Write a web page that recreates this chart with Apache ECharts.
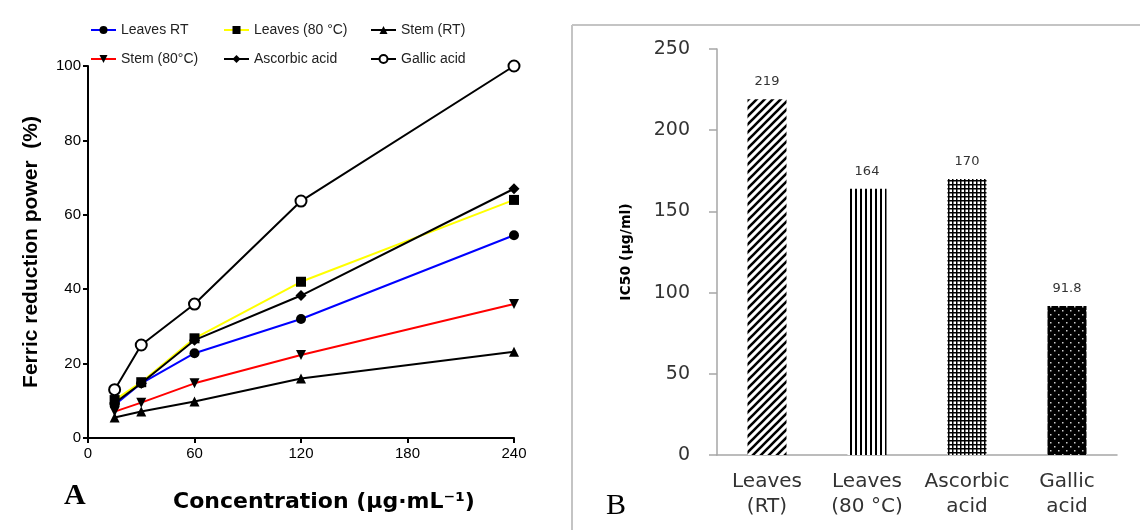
<!DOCTYPE html>
<html>
<head>
<meta charset="utf-8">
<script src="https://cdn.jsdelivr.net/npm/echarts@6/dist/echarts.min.js"></script>
<style>
  html, body { margin: 0; padding: 0; background: #fff; }
  #main { width: 1140px; height: 530px; }
</style>
</head>
<body>
<div id="main"></div>
<script>
// panel A: ferric reduction power vs concentration
var conc = [15, 30, 60, 120, 240];
var leavesRT = [8.9, 14.7, 22.8, 32, 54.5];
var leaves80 = [10.2, 15, 26.8, 42, 64];
var stemRT = [5.5, 7.1, 9.8, 16, 23.2];
var stem80 = [7.1, 9.5, 14.7, 22.3, 36];
var ascorbic = [9.4, 14.7, 26.3, 38.3, 67];
var gallic = [13, 25, 36, 63.7, 100];

// panel B: IC50
var ic50Names = ['Leaves\n(RT)', 'Leaves\n(80 °C)', 'Ascorbic\nacid', 'Gallic\nacid'];
var ic50Values = [219, 164, 170, 91.8];

function pair(ys) {
  var out = [];
  for (var i = 0; i < conc.length; i++) out.push([conc[i], ys[i]]);
  return out;
}

function makePattern(kind) {
  var c = document.createElement('canvas');
  var ctx;
  if (kind === 'diag') {
    c.width = 8; c.height = 8;
    ctx = c.getContext('2d');
    ctx.fillStyle = '#fff'; ctx.fillRect(0, 0, 8, 8);
    ctx.strokeStyle = '#000'; ctx.lineWidth = 2.6;
    ctx.beginPath();
    ctx.moveTo(-2, 10); ctx.lineTo(10, -2);
    ctx.moveTo(-2, 2); ctx.lineTo(2, -2);
    ctx.moveTo(6, 10); ctx.lineTo(10, 6);
    ctx.stroke();
  } else if (kind === 'vert') {
    c.width = 5; c.height = 5;
    ctx = c.getContext('2d');
    ctx.fillStyle = '#fff'; ctx.fillRect(0, 0, 5, 5);
    ctx.fillStyle = '#000'; ctx.fillRect(0, 0, 2, 5);
  } else if (kind === 'grid') {
    c.width = 4; c.height = 4;
    ctx = c.getContext('2d');
    ctx.fillStyle = '#fff'; ctx.fillRect(0, 0, 4, 4);
    ctx.fillStyle = '#000';
    ctx.fillRect(0, 0, 1.5, 4); ctx.fillRect(0, 0, 4, 1.5);
  } else {
    c.width = 8; c.height = 8;
    ctx = c.getContext('2d');
    ctx.fillStyle = '#000'; ctx.fillRect(0, 0, 8, 8);
    ctx.fillStyle = '#ccc';
    ctx.fillRect(2, 2, 1.5, 1.5); ctx.fillRect(6, 6, 1.5, 1.5);
  }
  return { image: c, repeat: 'repeat' };
}

var patterns = [makePattern('diag'), makePattern('vert'), makePattern('grid'), makePattern('dots')];
var barData = ic50Values.map(function (v, i) {
  return { value: v, itemStyle: { color: patterns[i] } };
});

var legendText = { fontFamily: 'Liberation Sans, Arial, sans-serif', fontSize: 14, color: '#222' };
function lineSeries(name, ys, lineColor, symbol, size, extra) {
  var s = {
    name: name, type: 'line', xAxisIndex: 0, yAxisIndex: 0,
    data: pair(ys), symbol: symbol, symbolSize: size,
    lineStyle: { color: lineColor, width: 2 },
    itemStyle: { color: '#000' },
    emphasis: { disabled: true }
  };
  if (extra) for (var k in extra) s[k] = extra[k];
  return s;
}

var chart = echarts.init(document.getElementById('main'));
chart.setOption({
  animation: false,
  title: [
    { text: 'Concentration (µg·mL⁻¹)', left: 168, top: 486,
      textStyle: { fontFamily: 'DejaVu Sans', fontWeight: 'bold', fontSize: 22, color: '#000' } },
    { text: 'A', left: 59, top: 476,
      textStyle: { fontFamily: 'Liberation Serif', fontWeight: 'bold', fontSize: 30, color: '#000' } },
    { text: 'B', left: 601, top: 486,
      textStyle: { fontFamily: 'Liberation Serif', fontWeight: 'normal', fontSize: 30, color: '#000' } }
  ],
  legend: [
    { orient: 'vertical', left: 85, top: 18, itemWidth: 25, itemHeight: 10, itemGap: 15,
      data: ['Leaves RT', 'Stem (80°C)'], textStyle: legendText },
    { orient: 'vertical', left: 218, top: 18, itemWidth: 25, itemHeight: 10, itemGap: 15,
      data: ['Leaves (80 °C)', 'Ascorbic acid'], textStyle: legendText },
    { orient: 'vertical', left: 365, top: 18, itemWidth: 25, itemHeight: 10, itemGap: 15,
      data: ['Stem (RT)', 'Gallic acid'], textStyle: legendText }
  ],
  graphic: [
    { type: 'line', shape: { x1: 572, y1: 25, x2: 1140, y2: 25 }, style: { stroke: '#c4c4c4', lineWidth: 2 } },
    { type: 'line', shape: { x1: 572, y1: 25, x2: 572, y2: 530 }, style: { stroke: '#c4c4c4', lineWidth: 2 } }
  ],
  grid: [
    { left: 88, right: 626, top: 66, bottom: 92 },
    { left: 717, right: 23, top: 49, bottom: 75 }
  ],
  xAxis: [
    { type: 'value', gridIndex: 0, min: 0, max: 240, interval: 60,
      splitLine: { show: false },
      axisLine: { lineStyle: { color: '#000', width: 2 } },
      axisTick: { length: 5, lineStyle: { color: '#000', width: 2 } },
      axisLabel: { margin: 8, fontFamily: 'Liberation Sans, Arial', fontSize: 15, color: '#000' } },
    { type: 'category', gridIndex: 1, data: ic50Names,
      axisLine: { lineStyle: { color: '#a6a6a6', width: 1.5 } },
      axisTick: { length: 6, lineStyle: { color: '#a6a6a6', width: 1.5 } },
      axisLabel: { interval: 0, margin: 14, fontFamily: 'DejaVu Sans', fontSize: 20, lineHeight: 25, color: '#333' } }
  ],
  yAxis: [
    { type: 'value', gridIndex: 0, min: 0, max: 100, interval: 20,
      name: 'Ferric reduction power  (%)', nameLocation: 'middle', nameGap: 46,
      nameTextStyle: { fontFamily: 'Liberation Sans, Arial', fontWeight: 'bold', fontSize: 21, color: '#000' },
      splitLine: { show: false },
      axisLine: { show: true, lineStyle: { color: '#000', width: 2 } },
      axisTick: { show: true, length: 5, lineStyle: { color: '#000', width: 2 } },
      axisLabel: { margin: 7, fontFamily: 'Liberation Sans, Arial', fontSize: 15, color: '#000' } },
    { type: 'value', gridIndex: 1, min: 0, max: 250, interval: 50,
      name: 'IC50 (µg/ml)', nameLocation: 'middle', nameGap: 84,
      nameTextStyle: { fontFamily: 'DejaVu Sans', fontWeight: 'bold', fontSize: 14, color: '#000' },
      splitLine: { show: false },
      axisLine: { show: true, lineStyle: { color: '#a6a6a6', width: 1.5 } },
      axisTick: { show: true, length: 8, lineStyle: { color: '#a6a6a6', width: 1.5 } },
      axisLabel: { margin: 27, fontFamily: 'DejaVu Sans', fontSize: 19, color: '#333' } }
  ],
  series: [
    lineSeries('Stem (RT)', stemRT, '#000', 'triangle', 10),
    lineSeries('Stem (80°C)', stem80, '#ff0000', 'triangle', 10, { symbolRotate: 180 }),
    lineSeries('Leaves RT', leavesRT, '#0000ff', 'circle', 10),
    lineSeries('Leaves (80 °C)', leaves80, '#ffff00', 'rect', 10),
    lineSeries('Ascorbic acid', ascorbic, '#000', 'diamond', 11),
    lineSeries('Gallic acid', gallic, '#000', 'emptyCircle', 11, {
      itemStyle: { color: '#000', borderColor: '#000', borderWidth: 2 }
    }),
    { type: 'bar', xAxisIndex: 1, yAxisIndex: 1, barWidth: 39, data: barData,
      emphasis: { disabled: true },
      label: { show: true, position: 'top', distance: 11,
        fontFamily: 'DejaVu Sans', fontSize: 13, color: '#333' } }
  ]
});
</script>
</body>
</html>
